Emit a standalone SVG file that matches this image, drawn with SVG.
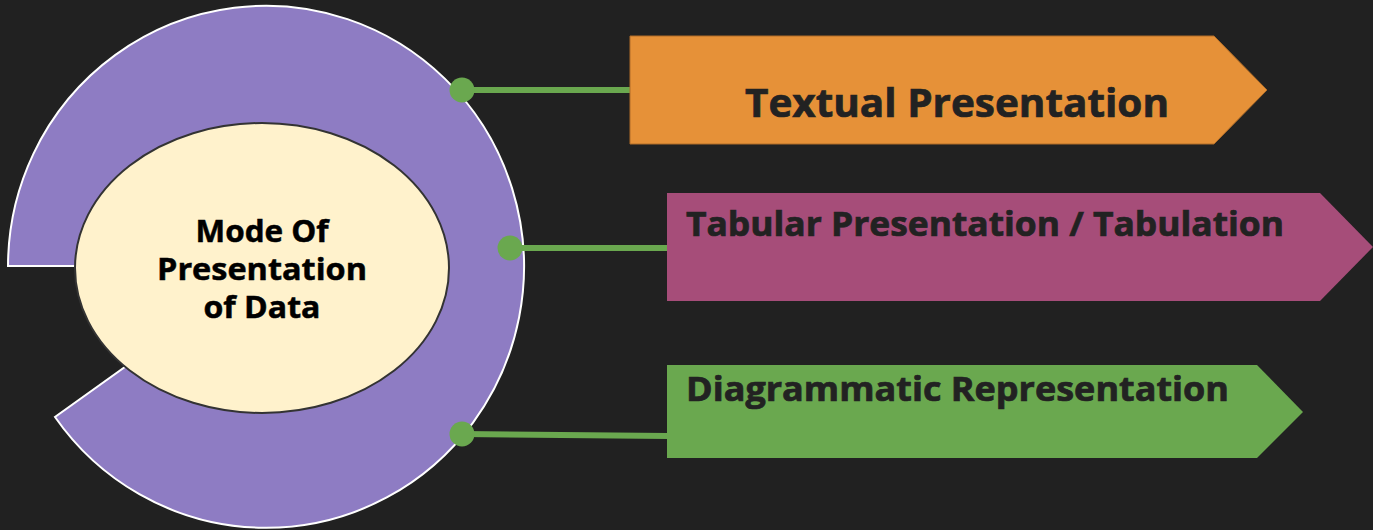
<svg xmlns="http://www.w3.org/2000/svg" width="1373" height="530" viewBox="0 0 1373 530">
  <style>
    .label { font-family: "Open Sans", "Liberation Sans", sans-serif; font-weight: 700; fill: #222222; stroke: #222222; stroke-width: 0.7; }
    .core { font-family: "Open Sans", "Liberation Sans", sans-serif; font-weight: 700; fill: #000000; stroke: #000000; stroke-width: 0.5; font-size: 31px; text-anchor: middle; }
    .link { stroke: #6aa84f; stroke-width: 6; fill: none; }
    .dot { fill: #6aa84f; }
  </style>
  <rect width="1373" height="530" fill="#212121"/>

  <!-- outer ring: a sector with a notch on the lower left -->
  <g id="ring">
    <path d="M 266 266 L 8 266 A 258 261 0 1 1 55 417 Z" fill="#8e7cc3" stroke="#ffffff" stroke-width="2"/>
  </g>

  <!-- central topic -->
  <g id="core">
    <ellipse cx="262" cy="268" rx="187" ry="145" fill="#fff2cc" stroke="#333333" stroke-width="2"/>
    <text class="core" x="262" y="242" textLength="133" lengthAdjust="spacingAndGlyphs">Mode Of</text>
    <text class="core" x="262" y="280" textLength="210" lengthAdjust="spacingAndGlyphs">Presentation</text>
    <text class="core" x="262" y="318" textLength="117" lengthAdjust="spacingAndGlyphs">of Data</text>
  </g>

  <!-- connectors from the ring to each branch -->
  <g id="connectors">
    <line class="link" x1="462" y1="90" x2="632" y2="90"/>
    <line class="link" x1="510" y1="248" x2="668" y2="248"/>
    <line class="link" x1="462" y1="434" x2="668" y2="436"/>
    <circle class="dot" cx="462" cy="90" r="12.5"/>
    <circle class="dot" cx="510" cy="248" r="12.5"/>
    <circle class="dot" cx="462" cy="434" r="12.5"/>
  </g>

  <g id="textual">
    <polygon points="630,36 1214,36 1267,90 1214,144 630,144" fill="#e69138" stroke="#b06d28" stroke-width="1"/>
    <text class="label" x="745" y="117" font-size="40" textLength="424" lengthAdjust="spacingAndGlyphs">Textual Presentation</text>
  </g>

  <g id="tabular">
    <polygon points="667,193 1320,193 1373,247 1320,301 667,301" fill="#a64d79"/>
    <text class="label" x="686" y="236" font-size="34" textLength="598" lengthAdjust="spacingAndGlyphs">Tabular Presentation / Tabulation</text>
  </g>

  <g id="diagrammatic">
    <polygon points="667,365 1257,365 1303,412 1257,458 667,458" fill="#6aa84f"/>
    <text class="label" x="686" y="401" font-size="34" textLength="543" lengthAdjust="spacingAndGlyphs">Diagrammatic Representation</text>
  </g>
</svg>
